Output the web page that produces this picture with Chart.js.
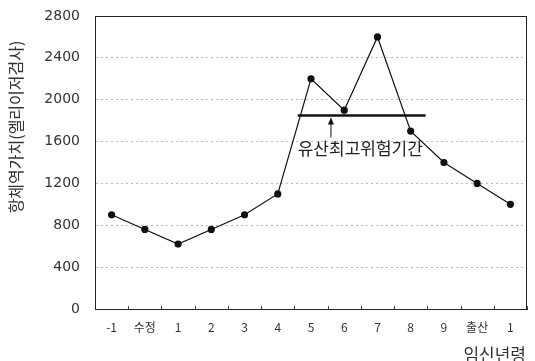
<!DOCTYPE html>
<html>
<head>
<meta charset="utf-8">
<script src="https://cdn.jsdelivr.net/npm/chart.js@4.4.0/dist/chart.umd.min.js"></script>
<style>
  html, body { margin: 0; padding: 0; background: #fff; }
  #wrap { width: 535px; height: 361px; }
</style>
</head>
<body>
<div id="wrap"><canvas id="myChart" width="535" height="361"></canvas></div>
<script>
// data
const months = ['-1', '수정', '1', '2', '3', '4', '5', '6', '7', '8', '9', '출산', '1']
const antibody = [900, 760, 620, 760, 900, 1100, 2200, 1900, 2600, 1700, 1400, 1200, 1000]
const yTicks = [0, 400, 800, 1200, 1600, 2000, 2400, 2800]
const riskRange = [5.6, 9.45]   // category index span of the bar
const riskLevel = 1850
const riskArrowAt = 6.6
const riskLabel = '유산최고위험기간'
const yTitle = '항체역가치(엘리이저검사)'
const xTitle = '임신년령'

const fontKr = '"Noto Sans CJK KR", "Noto Sans", sans-serif'

// bar + arrow + label, plus the axis titles placed like the original
const extras = {
    id: 'extras',
    afterDatasetsDraw(chart){
        const ctx = chart.ctx
        const x = chart.scales.x
        const y = chart.scales.y
        const a = chart.chartArea
        const x1 = x.getPixelForValue(riskRange[0])
        const x2 = x.getPixelForValue(riskRange[1])
        const yl = y.getPixelForValue(riskLevel)
        ctx.save()
        ctx.strokeStyle = '#111'
        ctx.lineWidth = 2.5
        ctx.beginPath()
        ctx.moveTo(x1, yl)
        ctx.lineTo(x2, yl)
        ctx.stroke()

        // arrow pointing up to the bar
        const xa = x.getPixelForValue(riskArrowAt)
        ctx.lineWidth = 1
        ctx.beginPath()
        ctx.moveTo(xa, yl + 22)
        ctx.lineTo(xa, yl + 3)
        ctx.stroke()
        ctx.fillStyle = '#111'
        ctx.beginPath()
        ctx.moveTo(xa, yl + 2)
        ctx.lineTo(xa - 3, yl + 9)
        ctx.lineTo(xa + 3, yl + 9)
        ctx.closePath()
        ctx.fill()

        ctx.font = '17px ' + fontKr
        ctx.textBaseline = 'middle'
        ctx.textAlign = 'left'
        ctx.fillStyle = '#222'
        ctx.fillText(riskLabel, x1, yl + 33)

        // y title, rotated
        ctx.save()
        ctx.translate(16, 127)
        ctx.rotate(-Math.PI / 2)
        ctx.textAlign = 'center'
        ctx.font = '16px ' + fontKr
        ctx.fillStyle = '#333'
        ctx.fillText(yTitle, 0, 0)
        ctx.restore()

        // x title, bottom right
        ctx.textAlign = 'right'
        ctx.font = '17px ' + fontKr
        ctx.fillStyle = '#333'
        ctx.fillText(xTitle, 526, 355)

        // small tick marks between categories, inside the box
        ctx.strokeStyle = '#444'
        ctx.lineWidth = 1
        for (let i = 0; i <= months.length; i++){
            const xt = Math.round(x.getPixelForValue(i - 0.5)) + 0.5
            ctx.beginPath()
            ctx.moveTo(xt, a.bottom)
            ctx.lineTo(xt, a.bottom - 3)
            ctx.stroke()
        }

        // frame
        ctx.strokeStyle = '#222'
        ctx.setLineDash([])
        ctx.strokeRect(a.left + 0.5, a.top + 0.5, a.right - a.left - 1, a.bottom - a.top)
        ctx.restore()
    }
}

let ctx = document.getElementById('myChart').getContext('2d')
let myChart = new Chart(ctx, {
    type: 'line',
    data: {
        labels: months,
        datasets: [{
            data: antibody,
            borderColor: '#111',
            backgroundColor: '#111',
            borderWidth: 1.2,
            pointRadius: 3,
            pointBackgroundColor: '#111',
            tension: 0
        }]
    },
    options: {
        responsive: false,
        animation: false,
        layout: { padding: { top: 16, right: 8, left: 0, bottom: 0 } },
        plugins: { legend: { display: false }, tooltip: { enabled: false } },
        scales: {
            x: {
                offset: true,
                grid: { display: false, drawTicks: false },
                border: { display: true, color: '#222' },
                ticks: {
                    color: '#333',
                    font: { size: 12, family: fontKr },
                    padding: 11,
                    maxRotation: 0,
                    autoSkip: false
                },
                afterFit: s => { s.height = 52 }
            },
            y: {
                min: 0,
                max: 2800,
                afterBuildTicks: s => { s.ticks = yTicks.map(v => ({ value: v })) },
                grid: {
                    color: '#bbb',
                    lineWidth: 1,
                    drawTicks: false
                },
                // in v4 this dash goes on the grid lines too: dotted like the original
                border: { display: true, color: '#222', dash: [2, 3] },
                ticks: {
                    color: '#333',
                    font: { size: 14, family: '"DejaVu Sans", sans-serif' },
                    padding: 15,
                    callback: v => String(v)
                },
                afterFit: s => { s.width = 95; s.paddingTop = 0; s.paddingBottom = 0 }
            }
        }
    },
    plugins: [extras]
})
</script>
</body>
</html>
